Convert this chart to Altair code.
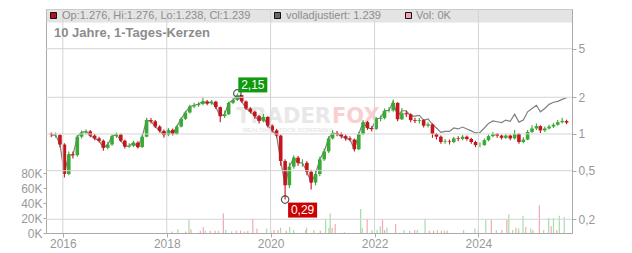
import altair as alt
import pandas as pd

FONT = "Liberation Sans"
GREEN = "#3aa936"
RED = "#c5161d"

# ---- monthly candles (Oct 2015 .. Sep 2025) ----
close = [0.98, 0.98, 0.82, 0.47, 0.68, 0.67, 0.95, 1.03, 1.05, 0.97,
         0.92, 0.88, 0.77, 0.82, 0.96, 0.99, 0.88, 0.79, 0.80, 0.85,
         0.78, 0.95, 1.30, 1.27, 1.15, 1.06, 0.98, 1.08, 1.00, 1.15,
         1.33, 1.50, 1.68, 1.72, 1.76, 1.85, 1.78, 1.84, 1.66, 1.40,
         1.45, 1.80, 1.90, 2.08, 1.85, 1.62, 1.52, 1.40, 1.28, 1.38,
         1.17, 1.07, 0.97, 0.60, 0.38, 0.54, 0.64, 0.58, 0.58, 0.49,
         0.40, 0.47, 0.62, 0.72, 0.92, 1.02, 1.00, 0.96, 0.92, 0.90,
         0.75, 1.00, 1.25, 1.12, 1.10, 1.33, 1.35, 1.55, 1.56, 1.80,
         1.32, 1.48, 1.45, 1.30, 1.28, 1.30, 1.17, 1.20, 1.00, 0.95,
         0.86, 0.87, 0.86, 0.92, 0.91, 0.95, 0.91, 0.86, 0.81, 0.81,
         0.89, 0.96, 1.00, 0.97, 0.93, 0.97, 0.92, 1.00, 0.86, 0.90,
         1.04, 1.11, 1.16, 1.07, 1.11, 1.15, 1.19, 1.25, 1.28, 1.239]

open_ = [0.99, 0.98, 0.98, 0.82, 0.47, 0.68, 0.67, 0.95, 1.03, 1.05,
         0.97, 0.92, 0.88, 0.77, 0.82, 0.96, 0.99, 0.88, 0.79, 0.80,
         0.85, 0.78, 0.95, 1.30, 1.27, 1.15, 1.06, 0.98, 1.08, 1.00,
         1.15, 1.33, 1.50, 1.68, 1.72, 1.76, 1.85, 1.78, 1.84, 1.66,
         1.40, 1.45, 1.80, 1.90, 2.08, 1.85, 1.62, 1.52, 1.40, 1.28,
         1.38, 1.17, 1.07, 0.97, 0.60, 0.38, 0.54, 0.64, 0.58, 0.58,
         0.49, 0.40, 0.47, 0.62, 0.72, 0.92, 1.02, 1.00, 0.96, 0.92,
         0.90, 0.75, 1.00, 1.25, 1.12, 1.10, 1.33, 1.35, 1.55, 1.56,
         1.80, 1.32, 1.48, 1.45, 1.30, 1.28, 1.30, 1.17, 1.20, 1.00,
         0.95, 0.86, 0.87, 0.86, 0.92, 0.91, 0.95, 0.91, 0.86, 0.81,
         0.81, 0.89, 0.96, 1.00, 0.97, 0.93, 0.97, 0.92, 1.00, 0.86,
         0.90, 1.04, 1.11, 1.16, 1.07, 1.11, 1.15, 1.19, 1.25, 1.276]

high = [1.03, 1.03, 1.00, 0.84, 0.72, 0.72, 0.98, 1.07, 1.09, 1.08,
        1.00, 0.95, 0.90, 0.86, 0.99, 1.03, 1.01, 0.90, 0.84, 0.88,
        0.87, 0.99, 1.36, 1.35, 1.30, 1.18, 1.09, 1.12, 1.11, 1.18,
        1.37, 1.55, 1.74, 1.80, 1.82, 2.00, 1.90, 1.90, 1.87, 1.68,
        1.55, 1.84, 1.96, 2.15, 2.10, 1.88, 1.66, 1.55, 1.43, 1.46,
        1.40, 1.20, 1.10, 0.99, 0.62, 0.58, 0.67, 0.66, 0.62, 0.60,
        0.51, 0.50, 0.65, 0.76, 0.96, 1.08, 1.06, 1.03, 0.99, 0.96,
        0.92, 1.04, 1.30, 1.28, 1.16, 1.38, 1.42, 1.62, 1.66, 1.92,
        1.82, 1.63, 1.55, 1.48, 1.36, 1.35, 1.32, 1.25, 1.22, 1.02,
        0.97, 0.91, 0.90, 0.95, 0.96, 0.98, 0.97, 0.93, 0.88, 0.85,
        0.92, 0.99, 1.04, 1.02, 0.99, 1.00, 0.99, 1.08, 1.02, 0.94,
        1.08, 1.18, 1.22, 1.18, 1.15, 1.19, 1.23, 1.30, 1.36, 1.31]

low = [0.94, 0.93, 0.78, 0.44, 0.46, 0.63, 0.65, 0.92, 0.99, 0.94,
       0.89, 0.85, 0.73, 0.75, 0.80, 0.93, 0.86, 0.76, 0.77, 0.78,
       0.76, 0.77, 0.94, 1.22, 1.12, 1.03, 0.93, 0.96, 0.97, 0.98,
       1.13, 1.30, 1.47, 1.63, 1.67, 1.72, 1.72, 1.74, 1.60, 1.25,
       1.35, 1.43, 1.76, 1.86, 1.80, 1.58, 1.47, 1.33, 1.22, 1.25,
       1.13, 1.03, 0.93, 0.55, 0.29, 0.36, 0.52, 0.55, 0.54, 0.46,
       0.35, 0.38, 0.45, 0.60, 0.70, 0.90, 0.96, 0.92, 0.88, 0.87,
       0.72, 0.74, 0.98, 1.08, 1.05, 1.08, 1.27, 1.32, 1.50, 1.52,
       1.27, 1.30, 1.38, 1.25, 1.23, 1.22, 1.13, 1.13, 0.93, 0.90,
       0.83, 0.83, 0.82, 0.84, 0.87, 0.89, 0.88, 0.83, 0.78, 0.78,
       0.80, 0.87, 0.94, 0.93, 0.90, 0.91, 0.89, 0.90, 0.83, 0.84,
       0.89, 1.02, 1.08, 1.02, 1.04, 1.09, 1.12, 1.17, 1.22, 1.20]

# fully adjusted close (identical to close until mid 2022, then above it)
adj_tail = [1.56, 1.85, 1.40, 1.55, 1.55, 1.40, 1.40, 1.42, 1.30, 1.33,
            1.20, 1.12, 1.03, 1.05, 1.05, 1.12, 1.10, 1.14, 1.10, 1.06,
            1.02, 1.03, 1.12, 1.22, 1.28, 1.26, 1.24, 1.30, 1.27, 1.45,
            1.25, 1.30, 1.52, 1.62, 1.72, 1.52, 1.62, 1.75, 1.82, 1.85,
            1.92, 1.98]
adj = close[:78] + adj_tail

dates = pd.date_range("2015-10-12", periods=len(close), freq=pd.DateOffset(months=1))

# ---- volume spikes (thousands) ----
vol_dates = ["2018-02-06", "2018-03-20", "2018-05-14", "2018-06-06", "2018-06-20",
             "2018-08-25", "2018-09-15", "2018-09-29", "2018-11-02", "2018-12-07",
             "2018-12-30", "2019-02-03", "2019-02-19", "2019-04-01", "2019-05-05",
             "2019-06-04", "2019-07-02", "2019-07-25", "2019-08-29", "2019-09-27",
             "2019-12-05", "2020-01-02", "2020-01-25", "2020-02-21", "2020-03-11",
             "2020-04-21", "2020-05-14", "2020-06-11", "2020-09-04", "2020-09-10",
             "2020-10-31", "2020-12-16", "2021-01-22", "2021-02-14", "2021-02-23",
             "2021-03-09", "2021-03-30", "2021-06-02", "2021-09-25", "2021-10-06",
             "2021-11-10", "2021-12-14", "2022-01-18", "2022-02-10", "2022-02-26",
             "2022-03-12", "2022-03-28", "2022-05-29", "2022-07-28", "2022-09-05",
             "2022-10-10", "2022-10-28", "2022-12-22", "2023-01-21", "2023-02-20",
             "2023-03-19", "2023-04-16", "2023-05-07", "2023-05-27", "2023-09-19",
             "2023-12-08", "2024-01-01", "2024-02-22", "2024-04-01", "2024-05-06",
             "2024-06-14", "2024-07-19", "2024-08-02", "2024-08-29", "2024-09-21",
             "2024-10-10", "2024-11-10", "2024-11-29", "2025-01-02", "2025-01-18",
             "2025-03-05", "2025-04-04", "2025-05-09", "2025-05-27", "2025-06-12",
             "2025-07-05", "2025-07-23", "2025-08-27"]
vol_k = [2, 5, 2, 19, 5, 3, 8, 3, 3, 3,
         3, 26, 4, 2, 3, 3, 2, 3, 19, 6,
         6, 3, 4, 4, 7, 3, 8, 4, 4, 7,
         4, 3, 19, 7, 26, 7, 12, 1, 32, 7,
         19, 4, 4, 9, 18, 4, 7, 12, 4, 3,
         4, 4, 19, 3, 3, 4, 3, 3, 3, 4,
         6, 4, 18, 18, 4, 4, 18, 25, 4, 7,
         6, 23, 8, 6, 4, 37, 4, 20, 9, 20,
         4, 23, 21]
vol_dir = ["up", "up", "down", "up", "down", "down", "down", "up", "down", "down",
           "up", "down", "up", "up", "down", "down", "up", "down", "down", "down",
           "up", "up", "down", "down", "up", "down", "up", "up", "down", "up",
           "up", "down", "up", "up", "up", "down", "down", "down", "up", "up",
           "down", "up", "up", "up", "down", "down", "up", "down", "up", "up",
           "down", "up", "up", "down", "down", "up", "down", "up", "down", "up",
           "up", "up", "up", "down", "up", "down", "down", "up", "up", "down",
           "up", "up", "down", "up", "down", "down", "up", "up", "down", "up",
           "down", "up", "up"]

# ---- axis ticks ----
year_ticks = ["2016-01-01", "2018-01-01", "2020-01-01", "2022-01-01", "2024-01-01"]
price_ticks = [0.2, 0.5, 1, 2, 5]
vol_ticks = [0, 20, 40, 60, 80]

# ---- annotations ----
ann_dates = ["2019-05-12", "2020-04-12"]
ann_values = [2.15, 0.29]
ann_labels = ["2,15", "0,29"]

price_df = pd.DataFrame({"date": dates, "open": open_, "high": high,
                         "low": low, "close": close, "adj": adj})
vol_df = pd.DataFrame({"date": pd.to_datetime(vol_dates), "vol": vol_k, "dir": vol_dir})
ann_df = pd.DataFrame({"date": pd.to_datetime(ann_dates), "value": ann_values, "label": ann_labels})
ygrid_df = pd.DataFrame({"value": price_ticks})
xgrid_df = pd.DataFrame({"date": pd.to_datetime(year_ticks)})
one = pd.DataFrame({"k": [0]})

xscale = alt.Scale(domain=[alt.DateTime(year=2015, month=10, date=10),
                           alt.DateTime(year=2025, month=9, date=15)])
yscale = alt.Scale(type="log", domain=[0.1543, 10.58], nice=False)
vscale = alt.Scale(domain=[0, 298.67], nice=False, zero=True)

GRID = "#d4d4d4"
x_axis = alt.Axis(values=[alt.DateTime(year=int(s[:4]), month=1, date=1) for s in year_ticks],
                  format="%Y", title=None, grid=False,
                  tickSize=4, tickColor="#aaaaaa", domainColor="#aaaaaa",
                  labelColor="#999999", labelFontSize=12, labelPadding=1, labelFont=FONT)
y_axis = alt.Axis(orient="right", values=price_ticks,
                  labelExpr="replace(toString(datum.value), '.', ',')",
                  title=None, grid=False,
                  tickSize=4, tickColor="#aaaaaa", domainColor="#aaaaaa",
                  labelColor="#999999", labelFontSize=12, labelPadding=2, labelFont=FONT)
v_axis = alt.Axis(orient="left", values=vol_ticks,
                  labelExpr="datum.value + 'K'", title=None, grid=False,
                  tickSize=3, tickColor="#aaaaaa", domainColor="#aaaaaa",
                  labelColor="#999999", labelFontSize=12, labelPadding=1, labelFont=FONT)

X = alt.X("date:T", scale=xscale, axis=x_axis)


def Y(field):
    return alt.Y(field, scale=yscale, axis=y_axis)


updown = alt.condition("datum.close >= datum.open", alt.value(GREEN), alt.value(RED))

base = alt.Chart(price_df)
adj_line = base.mark_line(color="#808080", strokeWidth=1.2, clip=True).encode(x=X, y=Y("adj:Q"))
wick = base.mark_rule(strokeWidth=1.1, clip=True).encode(x=X, y=Y("low:Q"), y2="high:Q", color=updown)
body = base.mark_bar(size=3.6, clip=True).encode(x=X, y=Y("open:Q"), y2="close:Q", color=updown)

# grid lines from the tick values, through the scales (top level)
hgrid = alt.Chart(ygrid_df).mark_rule(color=GRID, strokeWidth=1).encode(
    y=alt.Y("value:Q", scale=yscale, axis=None), x=alt.value(0), x2=alt.value(526))
vgrid = alt.Chart(xgrid_df).mark_rule(color=GRID, strokeWidth=1).encode(
    x=X, y=alt.value(0), y2=alt.value(224))

annb = alt.Chart(ann_df)
ring = annb.mark_point(shape="circle", size=55, filled=False, stroke="#111111",
                       strokeWidth=1.2).encode(x=X, y=Y("value:Q"))
hi = annb.transform_filter("datum.value > 1")
lo = annb.transform_filter("datum.value < 1")
hi_box = hi.mark_rect(color="#0f9a0f", xOffset=1, x2Offset=30, yOffset=-16, y2Offset=-1).encode(
    x=X, x2="date:T", y=Y("value:Q"), y2="value:Q")
hi_txt = hi.mark_text(color="white", font=FONT, fontSize=12, dx=15.5, dy=-8.5,
                      baseline="middle", align="center").encode(x=X, y=Y("value:Q"), text="label:N")
lo_box = lo.mark_rect(color="#cc0000", xOffset=3, x2Offset=32, yOffset=3, y2Offset=18).encode(
    x=X, x2="date:T", y=Y("value:Q"), y2="value:Q")
lo_txt = lo.mark_text(color="white", font=FONT, fontSize=12, dx=17.5, dy=10.5,
                      baseline="middle", align="center").encode(x=X, y=Y("value:Q"), text="label:N")

ob = alt.Chart(one)


def sq(x0, fill):
    return ob.mark_rect(fill=fill, stroke="#111111", strokeWidth=1).encode(
        x=alt.value(x0), x2=alt.value(x0 + 6), y=alt.value(3.5), y2=alt.value(9.5))


def txt(x0, y0, s, size=11, weight="normal", color="#8c8c8c", align="left", font=FONT):
    return ob.mark_text(text=s, font=font, fontSize=size, fontWeight=weight, color=color,
                        align=align, baseline="middle").encode(x=alt.value(x0), y=alt.value(y0))


band = ob.mark_rect(fill="#c9c9c9", opacity=0.5).encode(
    x=alt.value(0), x2=alt.value(526), y=alt.value(0), y2=alt.value(13.5))

wm = [
    txt(285, 108, "TRADER", size=21, weight="bold", color="#e8e8e8", align="right", font="DejaVu Sans"),
    txt(286, 108, "FOX", size=21, weight="bold", color="#f9d0d0", align="left", font="DejaVu Sans"),
    txt(242, 121, "REALTIME STOCK SCREENING", size=6, weight="bold", color="#e8e8e8", align="center"),
]

price = alt.layer(band, *wm, adj_line, wick, body, ring, hi_box, hi_txt, lo_box, lo_txt)

vol = alt.Chart(vol_df).mark_rule(strokeWidth=1.2, opacity=0.9).encode(
    x=X, y=alt.Y("vol:Q", scale=vscale, axis=v_axis), y2=alt.value(224),
    color=alt.Color("dir:N", scale=alt.Scale(domain=["up", "down"], range=["#9fd89f", "#f2a0a8"]),
                    legend=None))

header = [
    sq(4.5, "#b5121b"), txt(16, 7, "Op:1.276, Hi:1.276, Lo:1.238, Cl:1.239"),
    sq(228.5, "#666666"), txt(240, 7, "volladjustiert: 1.239"),
    sq(359.5, "#f2a5ad"), txt(370, 7, "Vol: 0K"),
    txt(8, 24, "10 Jahre, 1-Tages-Kerzen", size=13, weight="bold"),
]

chart = alt.layer(price, vol, hgrid, vgrid, *header).resolve_scale(y="independent").properties(
    width=526, height=224,
    padding={"left": 46, "top": 9, "right": 60, "bottom": 20},
    autosize=alt.AutoSizeParams(type="none"),
    background="white",
).configure_view(stroke="#cccccc")

chart.save("out.html", embed_options={"renderer": "svg", "actions": False})
